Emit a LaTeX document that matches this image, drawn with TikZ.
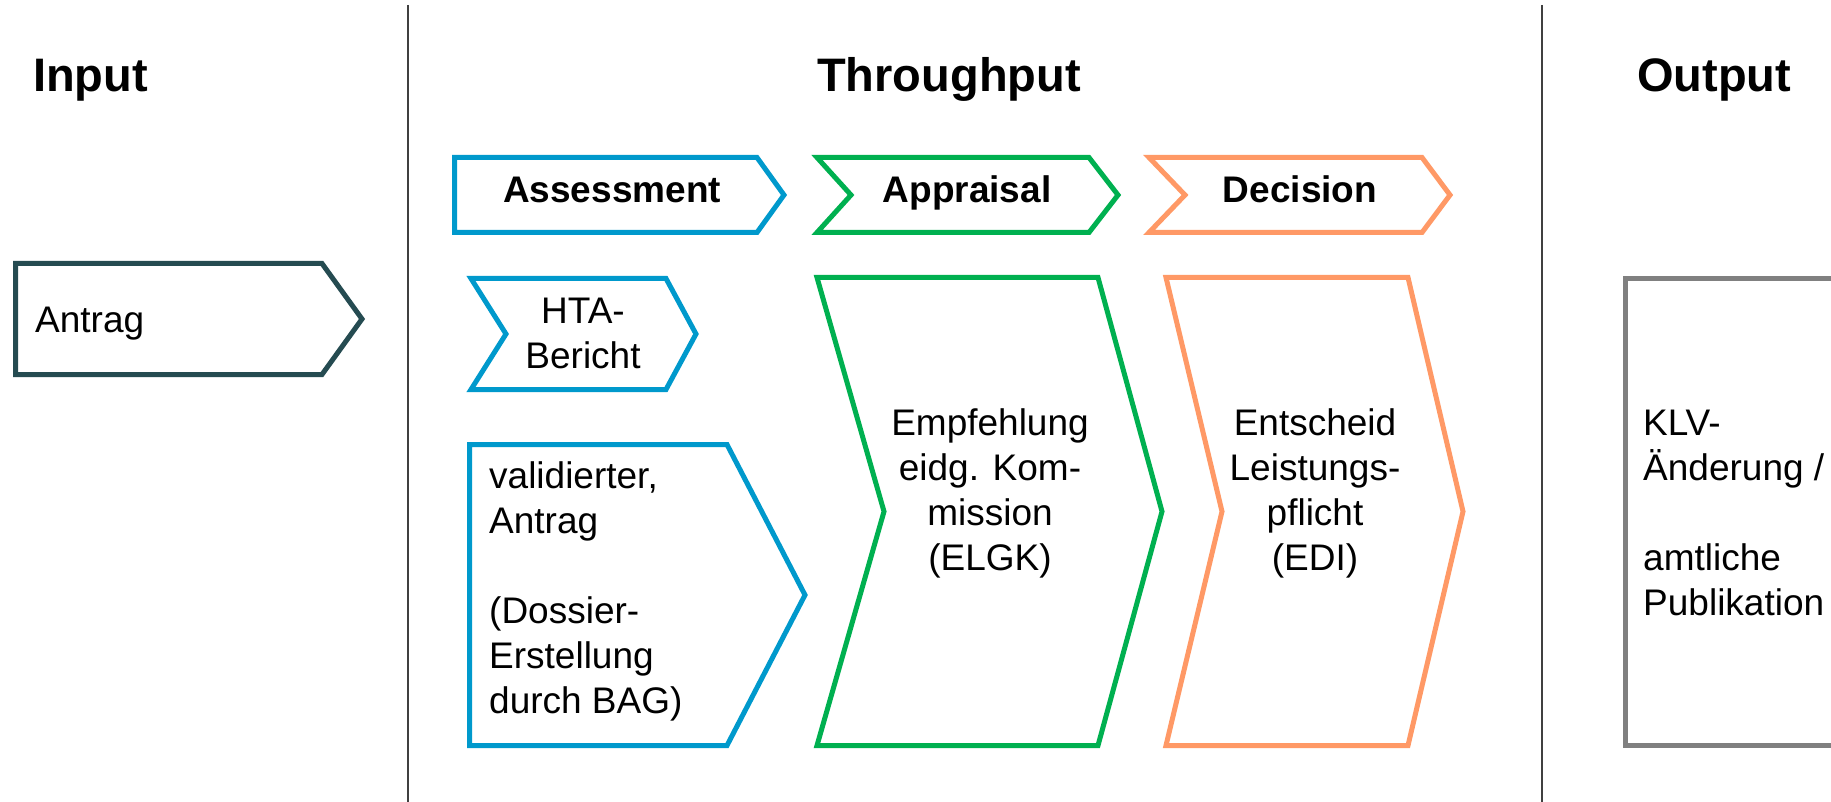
\documentclass[tikz,border=0pt]{standalone}
\usepackage{fontspec}
\setmainfont{Liberation Sans}
\usepackage{tikz}

\definecolor{inputteal}{HTML}{254B51}
\definecolor{assessblue}{HTML}{0099CC}
\definecolor{appraisalgreen}{HTML}{00B050}
\definecolor{decisionorange}{HTML}{FF9966}
\definecolor{outputgray}{HTML}{808080}
\definecolor{dividergray}{HTML}{404040}

\tikzset{
  phase/.style={line width=5pt, line join=miter},
  divider/.style={line width=2pt, dividergray},
  colhead/.style={font=\fontsize{47}{56}\selectfont\bfseries, inner sep=0pt},
  phasehead/.style={font=\fontsize{37}{45}\selectfont\bfseries, inner sep=0pt, anchor=base},
  boxtext/.style={font=\fontsize{37}{45}\selectfont, inner sep=0pt, align=center}
}

\begin{document}
\begin{tikzpicture}[x=1pt, y=-1pt]
        \clip (0,0) rectangle (1831,802);
        \fill[white] (0,0) rectangle (1831,802);

        % column headings and dividers
        \node[colhead, anchor=base west] (input) at (33,92) {Input};
        \node[colhead, anchor=base] (throughput) at (949,92) {Throughput};
        \node[colhead, anchor=base west] (output) at (1637,92) {Output};

        \draw[divider] (408,5) -- (408,802);
        \draw[divider] (1542,5) -- (1542,802);

        % input
        \draw[phase, inputteal] (15.5,263.5) -- (322,263.5) -- (362,319) -- (322,374.5) -- (15.5,374.5) -- cycle;
        \node[boxtext, anchor=base west, align=left] (antrag) at (35,332) {Antrag};

        % phase headers
        \draw[phase, assessblue] (454.5,157.5) -- (757,157.5) -- (784,195) -- (757,232.5) -- (454.5,232.5) -- cycle;
        \draw[phase, appraisalgreen] (817,157.5) -- (1089,157.5) -- (1118,195) -- (1089,232.5) -- (817,232.5) -- (851,195) -- cycle;
        \draw[phase, decisionorange] (1149,157.5) -- (1422,157.5) -- (1450,195) -- (1422,232.5) -- (1149,232.5) -- (1185,195) -- cycle;
        \node[phasehead] (assessment) at (612,203) {Assessment};
        \node[phasehead] (appraisal) at (967,203) {Appraisal};
        \node[phasehead] (decision) at (1300,203) {Decision};

        % assessment (base of a multi-line node = last line)
        \draw[phase, assessblue] (471,278.5) -- (666,278.5) -- (696,334) -- (666,389.5) -- (471,389.5) -- (506,334) -- cycle;
        \node[boxtext, anchor=base] (hta) at (583,368) {HTA-\\Bericht};
        \draw[phase, assessblue] (469.5,444.5) -- (727,444.5) -- (805,595) -- (727,745.5) -- (469.5,745.5) -- cycle;
        \node[boxtext, anchor=base west, align=left] (dossier) at (489,713) {validierter,\\Antrag\\[45pt](Dossier-\\Erstellung\\durch BAG)};

        % appraisal and decision
        \draw[phase, appraisalgreen] (817,277.5) -- (1098,277.5) -- (1162,511.5) -- (1098,745.5) -- (817,745.5) -- (884,511.5) -- cycle;
        \node[boxtext, anchor=base] (elgk) at (990,570) {Empfehlung\\eidg. Kom-\\mission\\(ELGK)};
        \draw[phase, decisionorange] (1166,277.5) -- (1408,277.5) -- (1463,511.5) -- (1408,745.5) -- (1166,745.5) -- (1222,511.5) -- cycle;
        \node[boxtext, anchor=base] (edi) at (1315,570) {Entscheid\\Leistungs-\\pflicht\\(EDI)};

        % output
        \draw[phase, outputgray] (1625.5,278.5) rectangle (1860,745.5);
        \node[boxtext, anchor=base west, align=left] (klv) at (1643,615) {KLV-\\Änderung /\\[45pt]amtliche\\Publikation};
    \end{tikzpicture}
\end{document}
